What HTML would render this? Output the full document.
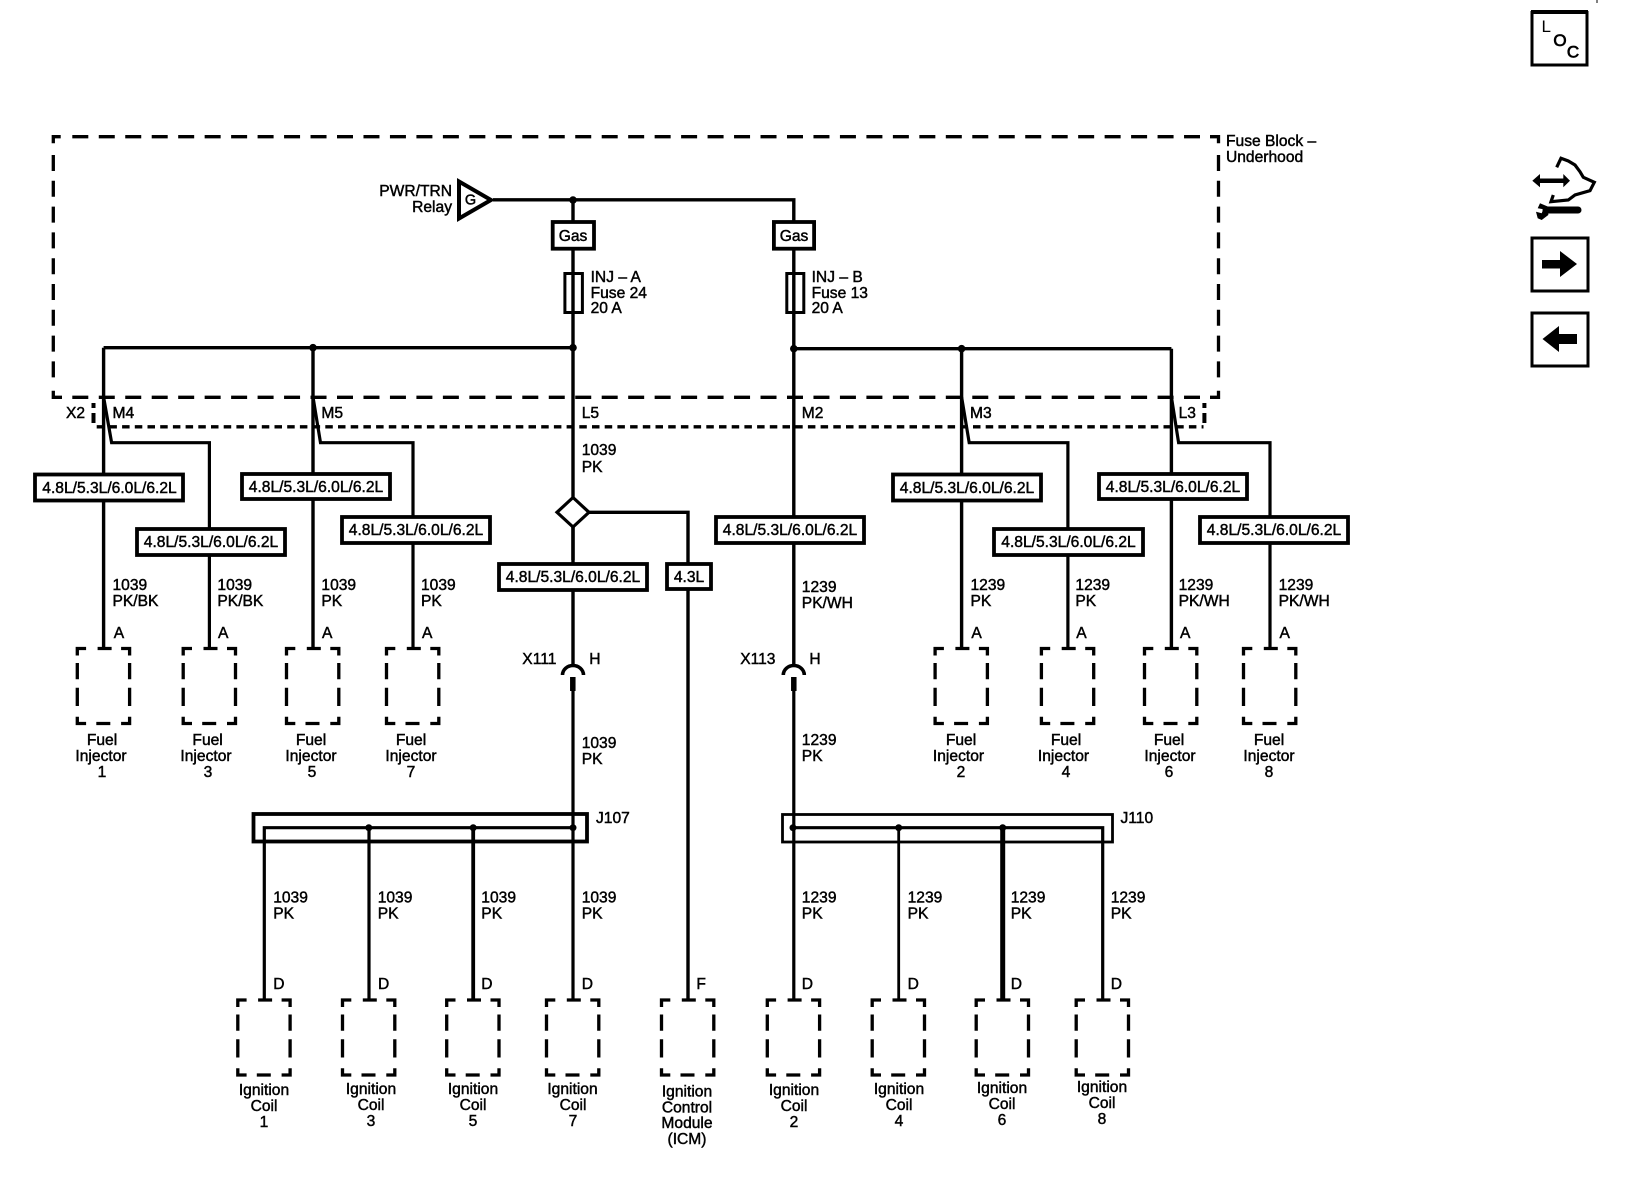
<!DOCTYPE html>
<html><head><meta charset="utf-8"><style>
html,body{margin:0;padding:0;background:#fff}
svg{display:block}
text{font-family:"Liberation Sans",sans-serif;font-size:15.6px;fill:#000;stroke:#000;stroke-width:.45}
.m{text-anchor:middle}
.e{text-anchor:end}
.w{fill:none;stroke:#000;stroke-width:3.2}
.b{fill:#fff;stroke:#000;stroke-width:3.8}
.d{fill:#000}
</style></head><body>
<svg width="1632" height="1198" viewBox="0 0 1632 1198" xmlns="http://www.w3.org/2000/svg">
<defs>
<g id="c"><path d="M1.7 8.5V1.5H10.5M22 1.5H36M45.5 1.5H54V8.5M1.7 16V32.3M1.7 40.7V59M1.7 69.7V76.5H10.5M20.7 76.5H34.7M45.5 76.5H54V69.7M54 16V32.3M54 40.7V59" fill="none" stroke="#000" stroke-width="3.3"/></g>
</defs>
<rect width="1632" height="1198" fill="#fff"/>

<!-- Fuse block dashed outline -->
<g fill="none" stroke="#000" stroke-width="3.3">
<path d="M72.3 136.7H1200M72.3 397.3H1200" stroke-dasharray="16 10.47"/>
<path d="M53.3 155V378M1218.5 155V378" stroke-dasharray="16 9.8"/>
<path d="M53.3 143.3V136.7H60.7M53.3 390.7V397.3H62M1210 136.7H1218.5V143.3M1218.5 390.7V397.3H1210"/>
<path d="M96.7 426.8H1203.5" stroke-dasharray="7.5 5.2"/>
<path d="M93.5 403V408M93.5 413V423M1204.4 403V408M1204.4 413V423" stroke-width="4"/>
</g>

<!-- Power feed -->
<polygon points="459,181.5 491,200 459,218.5" fill="#fff" stroke="#000" stroke-width="4"/>
<path class="w" d="M493 199.8H793.8V348M573 200V666M103.6 347.7H573M793.8 348.7H1171.4M103.6 347.7V648M313 347.7V648M793.8 348V666M961.6 348.7V648M1171.4 348.7V648" style="stroke-width:3.4"/>
<circle class="d" cx="573" cy="200" r="3.8"/><circle class="d" cx="313" cy="347.7" r="3.8"/><circle class="d" cx="573" cy="347.7" r="3.8"/><circle class="d" cx="793.8" cy="348.7" r="3.8"/><circle class="d" cx="961.6" cy="348.7" r="3.8"/>

<!-- Branches -->
<path class="w" d="M103.6 397L111.6 442.7H209.4V648M313 397L320.5 442.7H413V648M961.6 397L969.2 442.7H1067.9V648M1171.4 397L1178.6 442.7H1270V648" style="stroke-width:3.2"/>

<!-- Gas and fuses -->
<rect class="b" x="552.7" y="222" width="41.3" height="26.7"/><rect class="b" x="773.9" y="222" width="40.2" height="26.7"/>
<rect x="564.9" y="273.5" width="17.5" height="39" fill="none" stroke="#000" stroke-width="3"/>
<rect x="786.8" y="273.5" width="17" height="39" fill="none" stroke="#000" stroke-width="3"/>

<!-- Splice and ICM branch -->
<path class="w" d="M573 527V560M589 512.3H688V999" style="stroke-width:3.4"/>
<polygon points="573,497.5 589,512.3 573,527 557,512.3" fill="#fff" stroke="#000" stroke-width="3.2"/>

<!-- Option boxes -->
<rect class="b" x="35" y="474.5" width="148" height="26"/>
<rect class="b" x="137" y="529" width="148" height="26"/>
<rect class="b" x="242" y="474" width="148" height="25"/>
<rect class="b" x="342" y="517" width="148" height="26"/>
<rect class="b" x="499" y="564" width="148" height="26"/>
<rect class="b" x="667" y="564" width="44" height="25"/>
<rect class="b" x="716" y="517" width="148" height="26"/>
<rect class="b" x="893" y="474.5" width="148" height="26"/>
<rect class="b" x="994" y="529" width="149" height="26"/>
<rect class="b" x="1099" y="474" width="148" height="25"/>
<rect class="b" x="1200" y="517" width="148" height="26"/>

<!-- X111 / X113 inline connectors -->
<path d="M562.5 675A10.5 9.5 0 0 1 583.5 675M783.3 675A10.5 9.5 0 0 1 804.3 675" fill="none" stroke="#000" stroke-width="3.6"/>
<path d="M572.8 677V691M793.8 677V691" fill="none" stroke="#000" stroke-width="5.5"/>
<path class="w" d="M573 691V999M793.8 691V999" style="stroke-width:3.2"/>

<!-- Junction blocks -->
<rect x="253.5" y="814" width="333.5" height="27.5" fill="none" stroke="#000" stroke-width="3.8"/>
<path class="w" d="M573 827.7H264.3V999M369 827.7V999"/>
<path d="M473.2 827.7V999" fill="none" stroke="#000" stroke-width="3.8"/>
<circle class="d" cx="368.8" cy="827.7" r="3.5"/><circle class="d" cx="473.2" cy="827.7" r="3.5"/><circle class="d" cx="573" cy="827.7" r="3.5"/>
<rect x="782.5" y="814.5" width="330" height="27.5" fill="none" stroke="#000" stroke-width="2.8"/>
<path class="w" d="M793.8 827.7H1102.7V999"/>
<path d="M898.7 827.7V999" fill="none" stroke="#000" stroke-width="2.8"/>
<path d="M1002.7 827.7V999" fill="none" stroke="#000" stroke-width="5"/>
<circle class="d" cx="793" cy="827.7" r="3.5"/><circle class="d" cx="898.7" cy="827.7" r="3.5"/><circle class="d" cx="1002.7" cy="827.7" r="3.5"/>

<!-- Component outlines -->
<use href="#c" x="75.6" y="647"/><use href="#c" x="181.5" y="647"/><use href="#c" x="284.8" y="647"/><use href="#c" x="384.8" y="647"/>
<use href="#c" x="933.4" y="647"/><use href="#c" x="1039.7" y="647"/><use href="#c" x="1142.8" y="647"/><use href="#c" x="1241.8" y="647"/>
<use href="#c" x="236.1" y="998.5"/><use href="#c" x="340.8" y="998.5"/><use href="#c" x="445" y="998.5"/><use href="#c" x="544.8" y="998.5"/>
<use href="#c" x="659.8" y="998.5"/><use href="#c" x="765.6" y="998.5"/><use href="#c" x="870.5" y="998.5"/><use href="#c" x="974.5" y="998.5"/><use href="#c" x="1074.5" y="998.5"/>

<!-- Top labels -->
<text class="e" x="452" y="196">PWR/TRN</text><text class="e" x="452" y="212">Relay</text>
<text class="m" x="470.5" y="204.5" style="font-size:14.5px">G</text>
<text class="m" x="573" y="241">Gas</text><text class="m" x="794" y="241">Gas</text>
<text x="590.6" y="282">INJ – A</text><text x="590.6" y="298">Fuse 24</text><text x="590.6" y="313">20 A</text>
<text x="811.6" y="282">INJ – B</text><text x="811.6" y="298">Fuse 13</text><text x="811.6" y="313">20 A</text>
<text x="1226" y="146">Fuse Block –</text><text x="1226" y="162">Underhood</text>
<text x="66" y="418">X2</text><text x="112.5" y="418">M4</text><text x="321.4" y="418">M5</text><text x="581.7" y="418">L5</text><text x="801.8" y="418">M2</text><text x="970" y="418">M3</text><text x="1178.6" y="418">L3</text>
<text x="581.7" y="455">1039</text><text x="581.7" y="472">PK</text>

<text class="m" x="109.5" y="493">4.8L/5.3L/6.0L/6.2L</text>
<text class="m" x="211" y="547">4.8L/5.3L/6.0L/6.2L</text>
<text class="m" x="316" y="492">4.8L/5.3L/6.0L/6.2L</text>
<text class="m" x="416" y="535">4.8L/5.3L/6.0L/6.2L</text>
<text class="m" x="573" y="582">4.8L/5.3L/6.0L/6.2L</text>
<text class="m" x="689" y="582">4.3L</text>
<text class="m" x="790" y="535">4.8L/5.3L/6.0L/6.2L</text>
<text class="m" x="967" y="493">4.8L/5.3L/6.0L/6.2L</text>
<text class="m" x="1068.5" y="547">4.8L/5.3L/6.0L/6.2L</text>
<text class="m" x="1173" y="492">4.8L/5.3L/6.0L/6.2L</text>
<text class="m" x="1274" y="535">4.8L/5.3L/6.0L/6.2L</text>

<text x="112.5" y="590">1039</text><text x="112.5" y="606">PK/BK</text>
<text x="217.4" y="590">1039</text><text x="217.4" y="606">PK/BK</text>
<text x="321.4" y="590">1039</text><text x="321.4" y="606">PK</text>
<text x="421" y="590">1039</text><text x="421" y="606">PK</text>
<text x="801.8" y="592">1239</text><text x="801.8" y="608">PK/WH</text>
<text x="970.5" y="590">1239</text><text x="970.5" y="606">PK</text>
<text x="1075.4" y="590">1239</text><text x="1075.4" y="606">PK</text>
<text x="1178.6" y="590">1239</text><text x="1178.6" y="606">PK/WH</text>
<text x="1278.6" y="590">1239</text><text x="1278.6" y="606">PK/WH</text>

<text x="113.8" y="638">A</text><text x="218" y="638">A</text><text x="322" y="638">A</text><text x="422" y="638">A</text><text x="971.4" y="638">A</text><text x="1076.3" y="638">A</text><text x="1180" y="638">A</text><text x="1279.5" y="638">A</text>
<text x="522.3" y="664">X111</text><text x="589.3" y="664">H</text><text x="740.2" y="664">X113</text><text x="809.4" y="664">H</text>

<text class="m" x="102" y="745">Fuel</text><text class="m" x="101" y="761">Injector</text><text class="m" x="102" y="777">1</text>
<text class="m" x="207.6" y="745">Fuel</text><text class="m" x="206" y="761">Injector</text><text class="m" x="208" y="777">3</text>
<text class="m" x="311" y="745">Fuel</text><text class="m" x="311" y="761">Injector</text><text class="m" x="312" y="777">5</text>
<text class="m" x="411" y="745">Fuel</text><text class="m" x="411" y="761">Injector</text><text class="m" x="411" y="777">7</text>
<text class="m" x="961" y="745">Fuel</text><text class="m" x="958.5" y="761">Injector</text><text class="m" x="961" y="777">2</text>
<text class="m" x="1066" y="745">Fuel</text><text class="m" x="1063.5" y="761">Injector</text><text class="m" x="1066" y="777">4</text>
<text class="m" x="1169" y="745">Fuel</text><text class="m" x="1170" y="761">Injector</text><text class="m" x="1169" y="777">6</text>
<text class="m" x="1269" y="745">Fuel</text><text class="m" x="1269" y="761">Injector</text><text class="m" x="1269" y="777">8</text>

<text x="581.7" y="748">1039</text><text x="581.7" y="764">PK</text>
<text x="801.8" y="745">1239</text><text x="801.8" y="761">PK</text>
<text x="596" y="823">J107</text><text x="1120.5" y="823">J110</text>

<text x="273.2" y="902.5">1039</text><text x="273.2" y="918.5">PK</text>
<text x="377.7" y="902.5">1039</text><text x="377.7" y="918.5">PK</text>
<text x="481.3" y="902.5">1039</text><text x="481.3" y="918.5">PK</text>
<text x="581.7" y="902.5">1039</text><text x="581.7" y="918.5">PK</text>
<text x="801.8" y="902.5">1239</text><text x="801.8" y="918.5">PK</text>
<text x="907.6" y="902.5">1239</text><text x="907.6" y="918.5">PK</text>
<text x="1010.7" y="902.5">1239</text><text x="1010.7" y="918.5">PK</text>
<text x="1110.7" y="902.5">1239</text><text x="1110.7" y="918.5">PK</text>

<text x="273.2" y="989">D</text><text x="378" y="989">D</text><text x="481.3" y="989">D</text><text x="581.7" y="989">D</text><text x="696.4" y="989">F</text><text x="801.8" y="989">D</text><text x="907.6" y="989">D</text><text x="1010.7" y="989">D</text><text x="1110.7" y="989">D</text>

<text class="m" x="264" y="1095">Ignition</text><text class="m" x="264" y="1111">Coil</text><text class="m" x="264" y="1127">1</text>
<text class="m" x="371" y="1094">Ignition</text><text class="m" x="371" y="1110">Coil</text><text class="m" x="371" y="1126">3</text>
<text class="m" x="473" y="1094">Ignition</text><text class="m" x="473" y="1110">Coil</text><text class="m" x="473" y="1126">5</text>
<text class="m" x="572.5" y="1094">Ignition</text><text class="m" x="573" y="1110">Coil</text><text class="m" x="573" y="1126">7</text>
<text class="m" x="687" y="1096.5">Ignition</text><text class="m" x="687" y="1112.5">Control</text><text class="m" x="687" y="1128">Module</text><text class="m" x="687" y="1144">(ICM)</text>
<text class="m" x="794" y="1095">Ignition</text><text class="m" x="794" y="1111">Coil</text><text class="m" x="794" y="1127">2</text>
<text class="m" x="899" y="1094">Ignition</text><text class="m" x="899" y="1110">Coil</text><text class="m" x="899" y="1126">4</text>
<text class="m" x="1002" y="1093">Ignition</text><text class="m" x="1002" y="1109">Coil</text><text class="m" x="1002" y="1125">6</text>
<text class="m" x="1102" y="1092">Ignition</text><text class="m" x="1102" y="1108">Coil</text><text class="m" x="1102" y="1124">8</text>

<!-- Side icons -->
<path d="M1597 0V3" stroke="#000" stroke-width="1" fill="none"/>
<rect x="1532" y="12.5" width="55" height="52.5" fill="none" stroke="#000" stroke-width="3"/>
<path d="M1531 12H1588" stroke="#000" stroke-width="4"/>
<text x="1541.5" y="32" style="font-size:17px;stroke-width:0">L</text>
<text class="m" x="1560" y="46" style="font-size:17px;stroke-width:.7">O</text>
<text class="m" x="1573" y="57.5" style="font-size:17px;stroke-width:.7">C</text>

<path d="M1556.7 167.3L1561 158.3L1568.3 161L1575 165L1580 171.7L1583.3 177.3L1594.3 182.3L1590 190.7L1575 195L1568.3 200L1551 201.7L1553.3 195" fill="none" stroke="#000" stroke-width="3.2"/>
<path d="M1538 180.7H1565" stroke="#000" stroke-width="4.5"/>
<polygon points="1532.3,180.7 1540,174 1540,187.3"/><polygon points="1570,180.7 1563.3,174 1563.3,187.3"/>
<path d="M1546 210H1578" stroke="#000" stroke-width="7" stroke-linecap="round"/>
<polygon points="1540,203.3 1548.3,206.7 1548.3,215 1541.7,220 1537.7,218.3 1536,211.7 1541.7,213.3 1543.3,209.3 1537.7,208.3"/>

<rect x="1532" y="238" width="56" height="53" fill="none" stroke="#000" stroke-width="3"/>
<polygon points="1542,260 1560,260 1560,251 1577,264 1560,277 1560,268.5 1542,268.5"/>
<rect x="1532" y="313" width="56" height="53" fill="none" stroke="#000" stroke-width="3"/>
<polygon points="1577,334 1559,334 1559,326 1542.5,339 1559,352 1559,344 1577,344"/>
</svg>
</body></html>
